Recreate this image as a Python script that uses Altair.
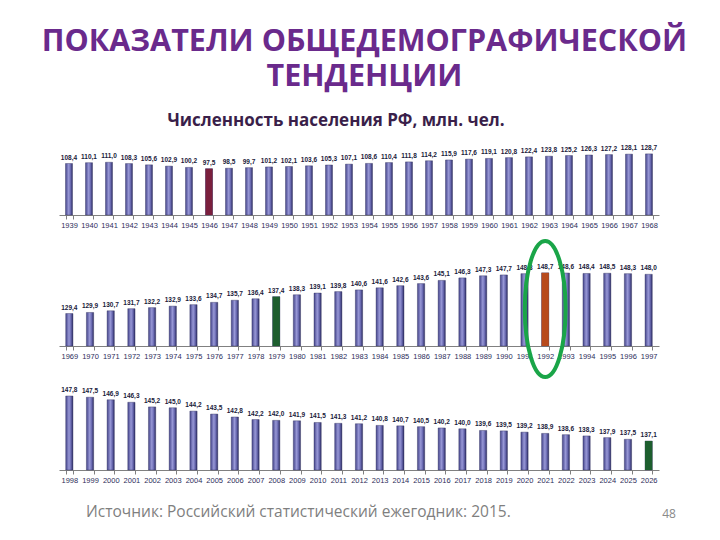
import altair as alt
import pandas as pd

TITLE = ["ПОКАЗАТЕЛИ ОБЩЕДЕМОГРАФИЧЕСКОЙ", "ТЕНДЕНЦИИ"]
SUBTITLE = "Численность населения РФ, млн. чел."
SOURCE = "Источник: Российский статистический ежегодник: 2015."
PAGE = "48"

YEARS_1 = list(range(1939, 1969))
POP_1 = [108.4, 110.1, 111.0, 108.3, 105.6, 102.9, 100.2, 97.5, 98.5, 99.7,
         101.2, 102.1, 103.6, 105.3, 107.1, 108.6, 110.4, 111.8, 114.2, 115.9,
         117.6, 119.1, 120.8, 122.4, 123.8, 125.2, 126.3, 127.2, 128.1, 128.7]

YEARS_2 = list(range(1969, 1998))
POP_2 = [129.4, 129.9, 130.7, 131.7, 132.2, 132.9, 133.6, 134.7, 135.7, 136.4,
         137.4, 138.3, 139.1, 139.8, 140.6, 141.6, 142.6, 143.6, 145.1, 146.3,
         147.3, 147.7, 148.3, 148.7, 148.6, 148.4, 148.5, 148.3, 148.0]

YEARS_3 = list(range(1998, 2027))
POP_3 = [147.8, 147.5, 146.9, 146.3, 145.2, 145.0, 144.2, 143.5, 142.8, 142.2,
         142.0, 141.9, 141.5, 141.3, 141.2, 140.8, 140.7, 140.5, 140.2, 140.0,
         139.6, 139.5, 139.2, 138.9, 138.6, 138.3, 137.9, 137.5, 137.1]

# highlighted years and their colours
HIGHLIGHT = {1946: "#7a1f3d", 1979: "#1d5e2e", 1992: "#b84a1c", 2026: "#1d5e2e"}
CIRCLED = [1992]

TITLE_COLOR = "#6a2a8c"
RING_COLOR = "#1aa548"
LABEL_FONT = "Liberation Sans"

BAR_FILL = alt.LinearGradient(
    gradient="linear",
    stops=[
        alt.GradientStop(color="#44448a", offset=0),
        alt.GradientStop(color="#9898d6", offset=0.45),
        alt.GradientStop(color="#6e6eb5", offset=0.7),
        alt.GradientStop(color="#2b2b62", offset=1),
    ],
    x1=0, x2=1, y1=0, y2=0,
)

ELLIPSE = "M -0.3,0 A 0.3,1 0 1,0 0.3,0 A 0.3,1 0 1,0 -0.3,0 Z"


def panel(years, values, domain, height, title=None, ring=None):
    df = pd.DataFrame({"year": years, "value": values})
    df["base"] = domain[0]
    df["label"] = df["value"].map(lambda v: f"{v:.1f}".replace(".", ","))
    df["hl"] = df["year"].map(HIGHLIGHT)

    x = alt.X(
        "year:O",
        scale=alt.Scale(paddingInner=0.65, paddingOuter=0.325),
        axis=alt.Axis(
            title=None, labelAngle=0, labelFontSize=7.5, labelFont=LABEL_FONT,
            labelColor="#2d2d5a", tickSize=4, tickColor="#808080",
            domainColor="#808080", tickBand="extent", labelPadding=2,
        ),
    )
    y = alt.Y("value:Q", scale=alt.Scale(domain=domain, zero=False, nice=False), axis=None)

    base = alt.Chart(df).encode(x=x)
    bars = base.mark_bar(color=BAR_FILL, stroke="#30305e", strokeWidth=0.4).encode(
        y=y, y2="base:Q"
    )
    hl = base.transform_filter("isValid(datum.hl)").mark_bar().encode(
        y=y, y2="base:Q", color=alt.Color("hl:N", scale=None, legend=None)
    )
    text = base.mark_text(
        dy=-3, baseline="bottom", fontSize=6.5, fontWeight="bold",
        font=LABEL_FONT, color="#1a1a3a",
    ).encode(y=y, text="label:N")

    layers = [bars, hl, text]
    if ring:
        ring_df = pd.DataFrame({"year": ring})
        layers.append(
            alt.Chart(ring_df).mark_point(
                shape=ELLIPSE, size=18500, filled=False, stroke=RING_COLOR,
                strokeWidth=4, opacity=1,
            ).encode(x="year:O", y=alt.value(60))
        )
    chart = alt.layer(*layers).properties(width=600, height=height)
    if title:
        chart = chart.properties(
            title=alt.TitleParams(
                text=title, fontSize=17, font="Open Sans", fontWeight="bold",
                color="#3a1f4a", anchor="middle", dx=-23, offset=9,
            )
        )
    return chart


row1 = panel(YEARS_1, POP_1, [0, 160], 76, title=SUBTITLE)
row2 = panel(YEARS_2, POP_2, [114, 160], 97, ring=CIRCLED)
row3 = panel(YEARS_3, POP_3, [130.2, 151.6], 90)

footer_df = pd.DataFrame({"source": [SOURCE], "page": [PAGE]})
footer_base = alt.Chart(footer_df)
footer = alt.layer(
    footer_base.mark_text(
        align="left", baseline="middle", fontSize=15.5, font="Open Sans", color="#7f7f7f"
    ).encode(x=alt.value(27), y=alt.value(8), text="source:N"),
    footer_base.mark_text(
        align="center", baseline="middle", fontSize=12, font="Open Sans", color="#8a8a8a"
    ).encode(x=alt.value(610), y=alt.value(10), text="page:N"),
).properties(width=600, height=12)

chart = alt.vconcat(row1, row2, row3, footer, spacing=34, bounds="flush").properties(
    title=alt.TitleParams(
        text=TITLE, fontSize=30.5, font="Open Sans", fontWeight="bold",
        color=TITLE_COLOR, lineHeight=35, anchor="middle", dx=-3, offset=20,
    ),
    padding={"left": 33, "top": 18, "right": 5, "bottom": 5},
    background="white",
).configure_view(stroke=None)

chart.save("out.html", embed_options={"renderer": "svg", "actions": False})
